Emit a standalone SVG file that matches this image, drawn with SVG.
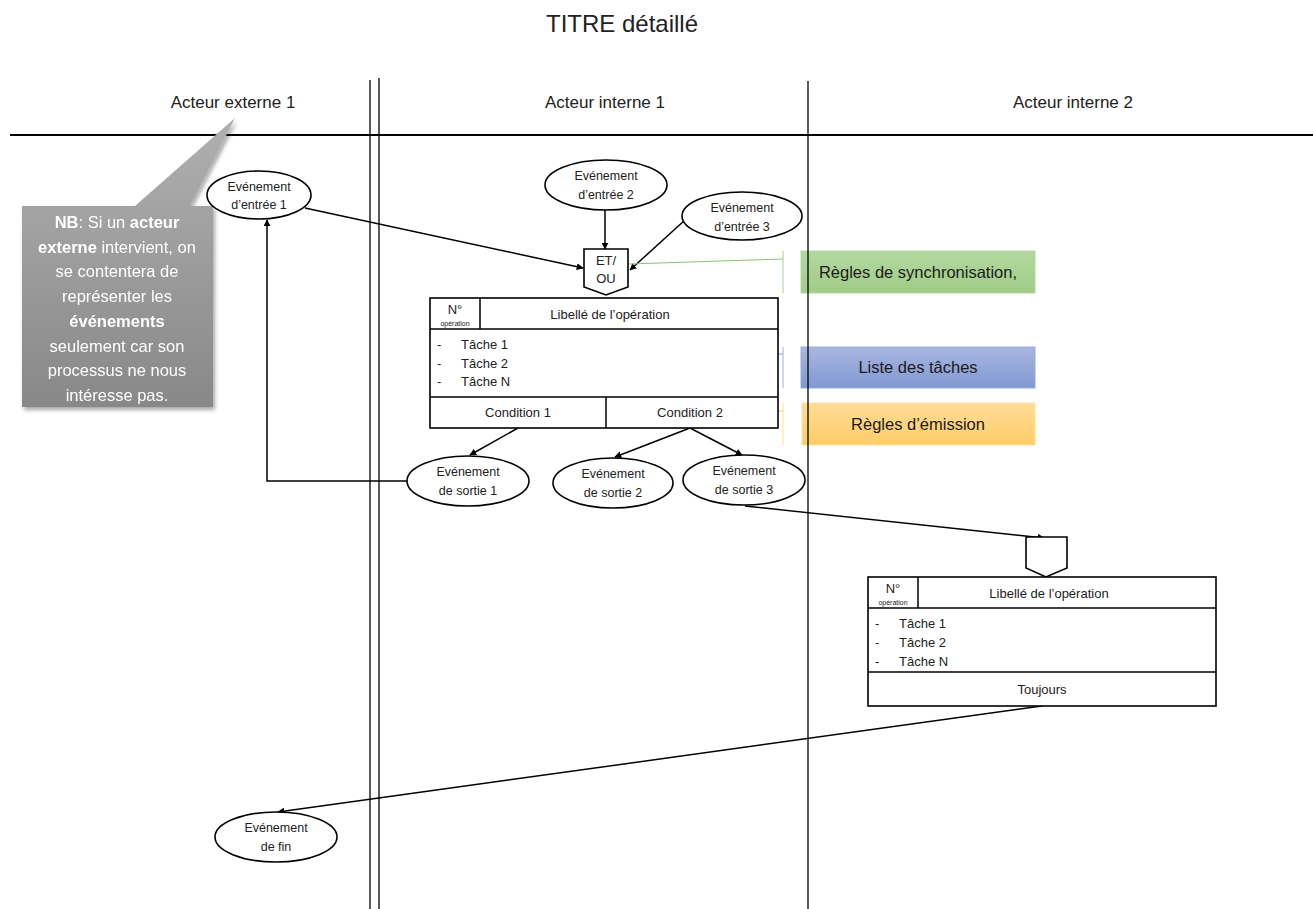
<svg xmlns="http://www.w3.org/2000/svg" width="1313" height="909" viewBox="0 0 1313 909">
<defs>
<style>
text{font-family:"Liberation Sans",Arial,sans-serif;fill:#222}
.lane{fill:none;stroke:#000;stroke-width:1.3}
.node{fill:#fff;stroke:#000;stroke-width:1.6}
.ev{font-size:12.5px;text-anchor:middle}
.box{font-size:13px}
.c{text-anchor:middle}
.conn{fill:none;stroke:#000;stroke-width:1.5}
.cb{font-size:16.5px;text-anchor:middle;fill:#1a1a1a}
.nb{font-size:16.5px;text-anchor:middle;fill:#fff}
</style>
<marker id="arr" viewBox="0 0 10 10" refX="9" refY="5" markerWidth="7" markerHeight="7" orient="auto" markerUnits="userSpaceOnUse">
<path d="M0,0 L10,5 L0,10 z" fill="#000"/>
</marker>
<linearGradient id="gGray" x1="0" y1="0" x2="0" y2="1">
<stop offset="0" stop-color="#b0b0b0"/><stop offset="1" stop-color="#888"/>
</linearGradient>
<linearGradient id="gGreen" x1="0" y1="0" x2="0" y2="1">
<stop offset="0" stop-color="#b3d8a0"/><stop offset="1" stop-color="#a0cc86"/>
</linearGradient>
<linearGradient id="gBlue" x1="0" y1="0" x2="0" y2="1">
<stop offset="0" stop-color="#a9b6e0"/><stop offset="1" stop-color="#8198d2"/>
</linearGradient>
<linearGradient id="gOrange" x1="0" y1="0" x2="0" y2="1">
<stop offset="0" stop-color="#ffdc98"/><stop offset="1" stop-color="#ffcd68"/>
</linearGradient>
<filter id="sh" x="-10%" y="-10%" width="130%" height="130%">
<feGaussianBlur in="SourceAlpha" stdDeviation="2"/>
<feOffset dx="2" dy="3" result="o"/>
<feComponentTransfer><feFuncA type="linear" slope="0.35"/></feComponentTransfer>
<feMerge><feMergeNode/><feMergeNode in="SourceGraphic"/></feMerge>
</filter>
</defs>
<rect width="1313" height="909" fill="#fff"/>

<g id="title"><text x="622" y="32" font-size="24" text-anchor="middle">TITRE détaillé</text></g>

<g id="regles-sync"><rect x="801" y="251" width="234" height="42" fill="url(#gGreen)" stroke="#b5d9a0" stroke-width="1"/><text class="cb" x="918" y="278">Règles de synchronisation,</text></g>
<g id="liste-taches"><rect x="801" y="347" width="234" height="41" fill="url(#gBlue)" stroke="#9aabde" stroke-width="1"/><text class="cb" x="918" y="373">Liste des tâches</text></g>
<g id="regles-emission"><rect x="802" y="403" width="233" height="42" fill="url(#gOrange)" stroke="#ffe3a0" stroke-width="1"/><text class="cb" x="918" y="430">Règles d’émission</text></g>

<g id="lanes">
<line class="lane" x1="370" y1="80" x2="370" y2="909"/>
<line class="lane" x1="379" y1="78" x2="379" y2="909"/>
<line class="lane" x1="808" y1="81" x2="808" y2="909"/>
<line x1="10" y1="135" x2="1313" y2="135" stroke="#000" stroke-width="1.8"/>
<text x="233" y="108" font-size="17" text-anchor="middle">Acteur externe 1</text>
<text x="605" y="108" font-size="17" text-anchor="middle">Acteur interne 1</text>
<text x="1073" y="108" font-size="17" text-anchor="middle">Acteur interne 2</text>
</g>

<g id="callout" filter="url(#sh)">
<path d="M22,206 L135,206 L235,118 L190,206 L213,206 L213,407 L22,407 Z" fill="url(#gGray)"/>
<text class="nb" x="117" y="228"><tspan font-weight="bold">NB</tspan>: Si un <tspan font-weight="bold">acteur</tspan></text>
<text class="nb" x="117" y="253"><tspan font-weight="bold">externe</tspan> intervient, on</text>
<text class="nb" x="117" y="277">se contentera de</text>
<text class="nb" x="117" y="302">représenter les</text>
<text class="nb" x="117" y="327" font-weight="bold">événements</text>
<text class="nb" x="117" y="352">seulement car son</text>
<text class="nb" x="117" y="376">processus ne nous</text>
<text class="nb" x="117" y="401">intéresse pas.</text>
</g>

<g id="connectors">
<line class="conn" x1="305" y1="208" x2="583" y2="268" marker-end="url(#arr)"/>
<line class="conn" x1="605" y1="210" x2="605" y2="249" marker-end="url(#arr)"/>
<line class="conn" x1="685" y1="220" x2="630" y2="270" marker-end="url(#arr)"/>
<line class="conn" x1="518" y1="428" x2="470" y2="455" marker-end="url(#arr)"/>
<line class="conn" x1="690" y1="428" x2="615" y2="457" marker-end="url(#arr)"/>
<line class="conn" x1="690" y1="428" x2="742" y2="455" marker-end="url(#arr)"/>
<polyline class="conn" points="407,481 267,481 267,220" marker-end="url(#arr)"/>
<line class="conn" x1="745" y1="506" x2="1044" y2="538" marker-end="url(#arr)"/>
<line class="conn" x1="1042" y1="706" x2="278" y2="812" marker-end="url(#arr)"/>
<polyline fill="none" stroke="#8cc36e" stroke-width="1" points="628,264 783,259"/>
<line x1="783" y1="251" x2="783" y2="293" stroke="#a9d18e" stroke-width="1"/>
<polyline fill="none" stroke="#7f97d6" stroke-width="1" points="520,355 783,354"/>
<line x1="783" y1="347" x2="783" y2="388" stroke="#9eb0e0" stroke-width="1"/>
<polyline fill="none" stroke="#f5c840" stroke-width="1" points="745,412 783,411"/>
<line x1="783" y1="403" x2="783" y2="445" stroke="#ffe08a" stroke-width="1"/>
</g>

<g id="ev-entree-1"><ellipse class="node" cx="259" cy="195" rx="52" ry="24"/><text class="ev" x="259" y="191">Evénement</text><text class="ev" x="259" y="209">d’entrée 1</text></g>
<g id="ev-entree-2"><ellipse class="node" cx="606" cy="185" rx="61" ry="25"/><text class="ev" x="606" y="180">Evénement</text><text class="ev" x="606" y="199">d’entrée 2</text></g>
<g id="ev-entree-3"><ellipse class="node" cx="742" cy="216" rx="60" ry="24"/><text class="ev" x="742" y="212">Evénement</text><text class="ev" x="742" y="231">d’entrée 3</text></g>

<g id="sync-1"><path class="node" d="M584,249 L628,249 L628,287 L606,295 L584,287 Z"/><text class="box c" x="606" y="265">ET/</text><text class="box c" x="606" y="283">OU</text></g>

<g id="operation-1">
<rect class="node" x="430" y="298" width="348" height="130"/>
<line class="conn" x1="430" y1="329" x2="778" y2="329"/>
<line class="conn" x1="480" y1="298" x2="480" y2="329"/>
<line class="conn" x1="430" y1="397" x2="778" y2="397"/>
<line class="conn" x1="606" y1="397" x2="606" y2="428"/>
<text class="box c" x="455" y="314">N°</text>
<text class="c" x="455" y="326" font-size="7">opération</text>
<text class="box c" x="610" y="319">Libellé de l’opération</text>
<text class="box" x="437" y="349">-</text><text class="box" x="461" y="349">Tâche 1</text>
<text class="box" x="437" y="368">-</text><text class="box" x="461" y="368">Tâche 2</text>
<text class="box" x="437" y="386">-</text><text class="box" x="461" y="386">Tâche N</text>
<text class="box c" x="518" y="417">Condition 1</text>
<text class="box c" x="690" y="417">Condition 2</text>
</g>

<g id="ev-sortie-1"><ellipse class="node" cx="468" cy="481" rx="61" ry="25"/><text class="ev" x="468" y="476">Evénement</text><text class="ev" x="468" y="495">de sortie 1</text></g>
<g id="ev-sortie-2"><ellipse class="node" cx="613" cy="483" rx="60" ry="25"/><text class="ev" x="613" y="478">Evénement</text><text class="ev" x="613" y="497">de sortie 2</text></g>
<g id="ev-sortie-3"><ellipse class="node" cx="744" cy="480" rx="61" ry="25"/><text class="ev" x="744" y="475">Evénement</text><text class="ev" x="744" y="494">de sortie 3</text></g>

<g id="sync-2"><path class="node" d="M1026,537 L1067,537 L1067,568 L1046,577 L1026,568 Z"/></g>

<g id="operation-2">
<rect class="node" x="868" y="577" width="348" height="129"/>
<line class="conn" x1="868" y1="608" x2="1216" y2="608"/>
<line class="conn" x1="918" y1="577" x2="918" y2="608"/>
<line class="conn" x1="868" y1="672" x2="1216" y2="672"/>
<text class="box c" x="893" y="593">N°</text>
<text class="c" x="893" y="605" font-size="7">opération</text>
<text class="box c" x="1049" y="598">Libellé de l’opération</text>
<text class="box" x="875" y="628">-</text><text class="box" x="899" y="628">Tâche 1</text>
<text class="box" x="875" y="647">-</text><text class="box" x="899" y="647">Tâche 2</text>
<text class="box" x="875" y="666">-</text><text class="box" x="899" y="666">Tâche N</text>
<text class="box c" x="1042" y="694">Toujours</text>
</g>

<g id="ev-fin"><ellipse class="node" cx="276" cy="837" rx="61" ry="25"/><text class="ev" x="276" y="832">Evénement</text><text class="ev" x="276" y="851">de fin</text></g>
</svg>
